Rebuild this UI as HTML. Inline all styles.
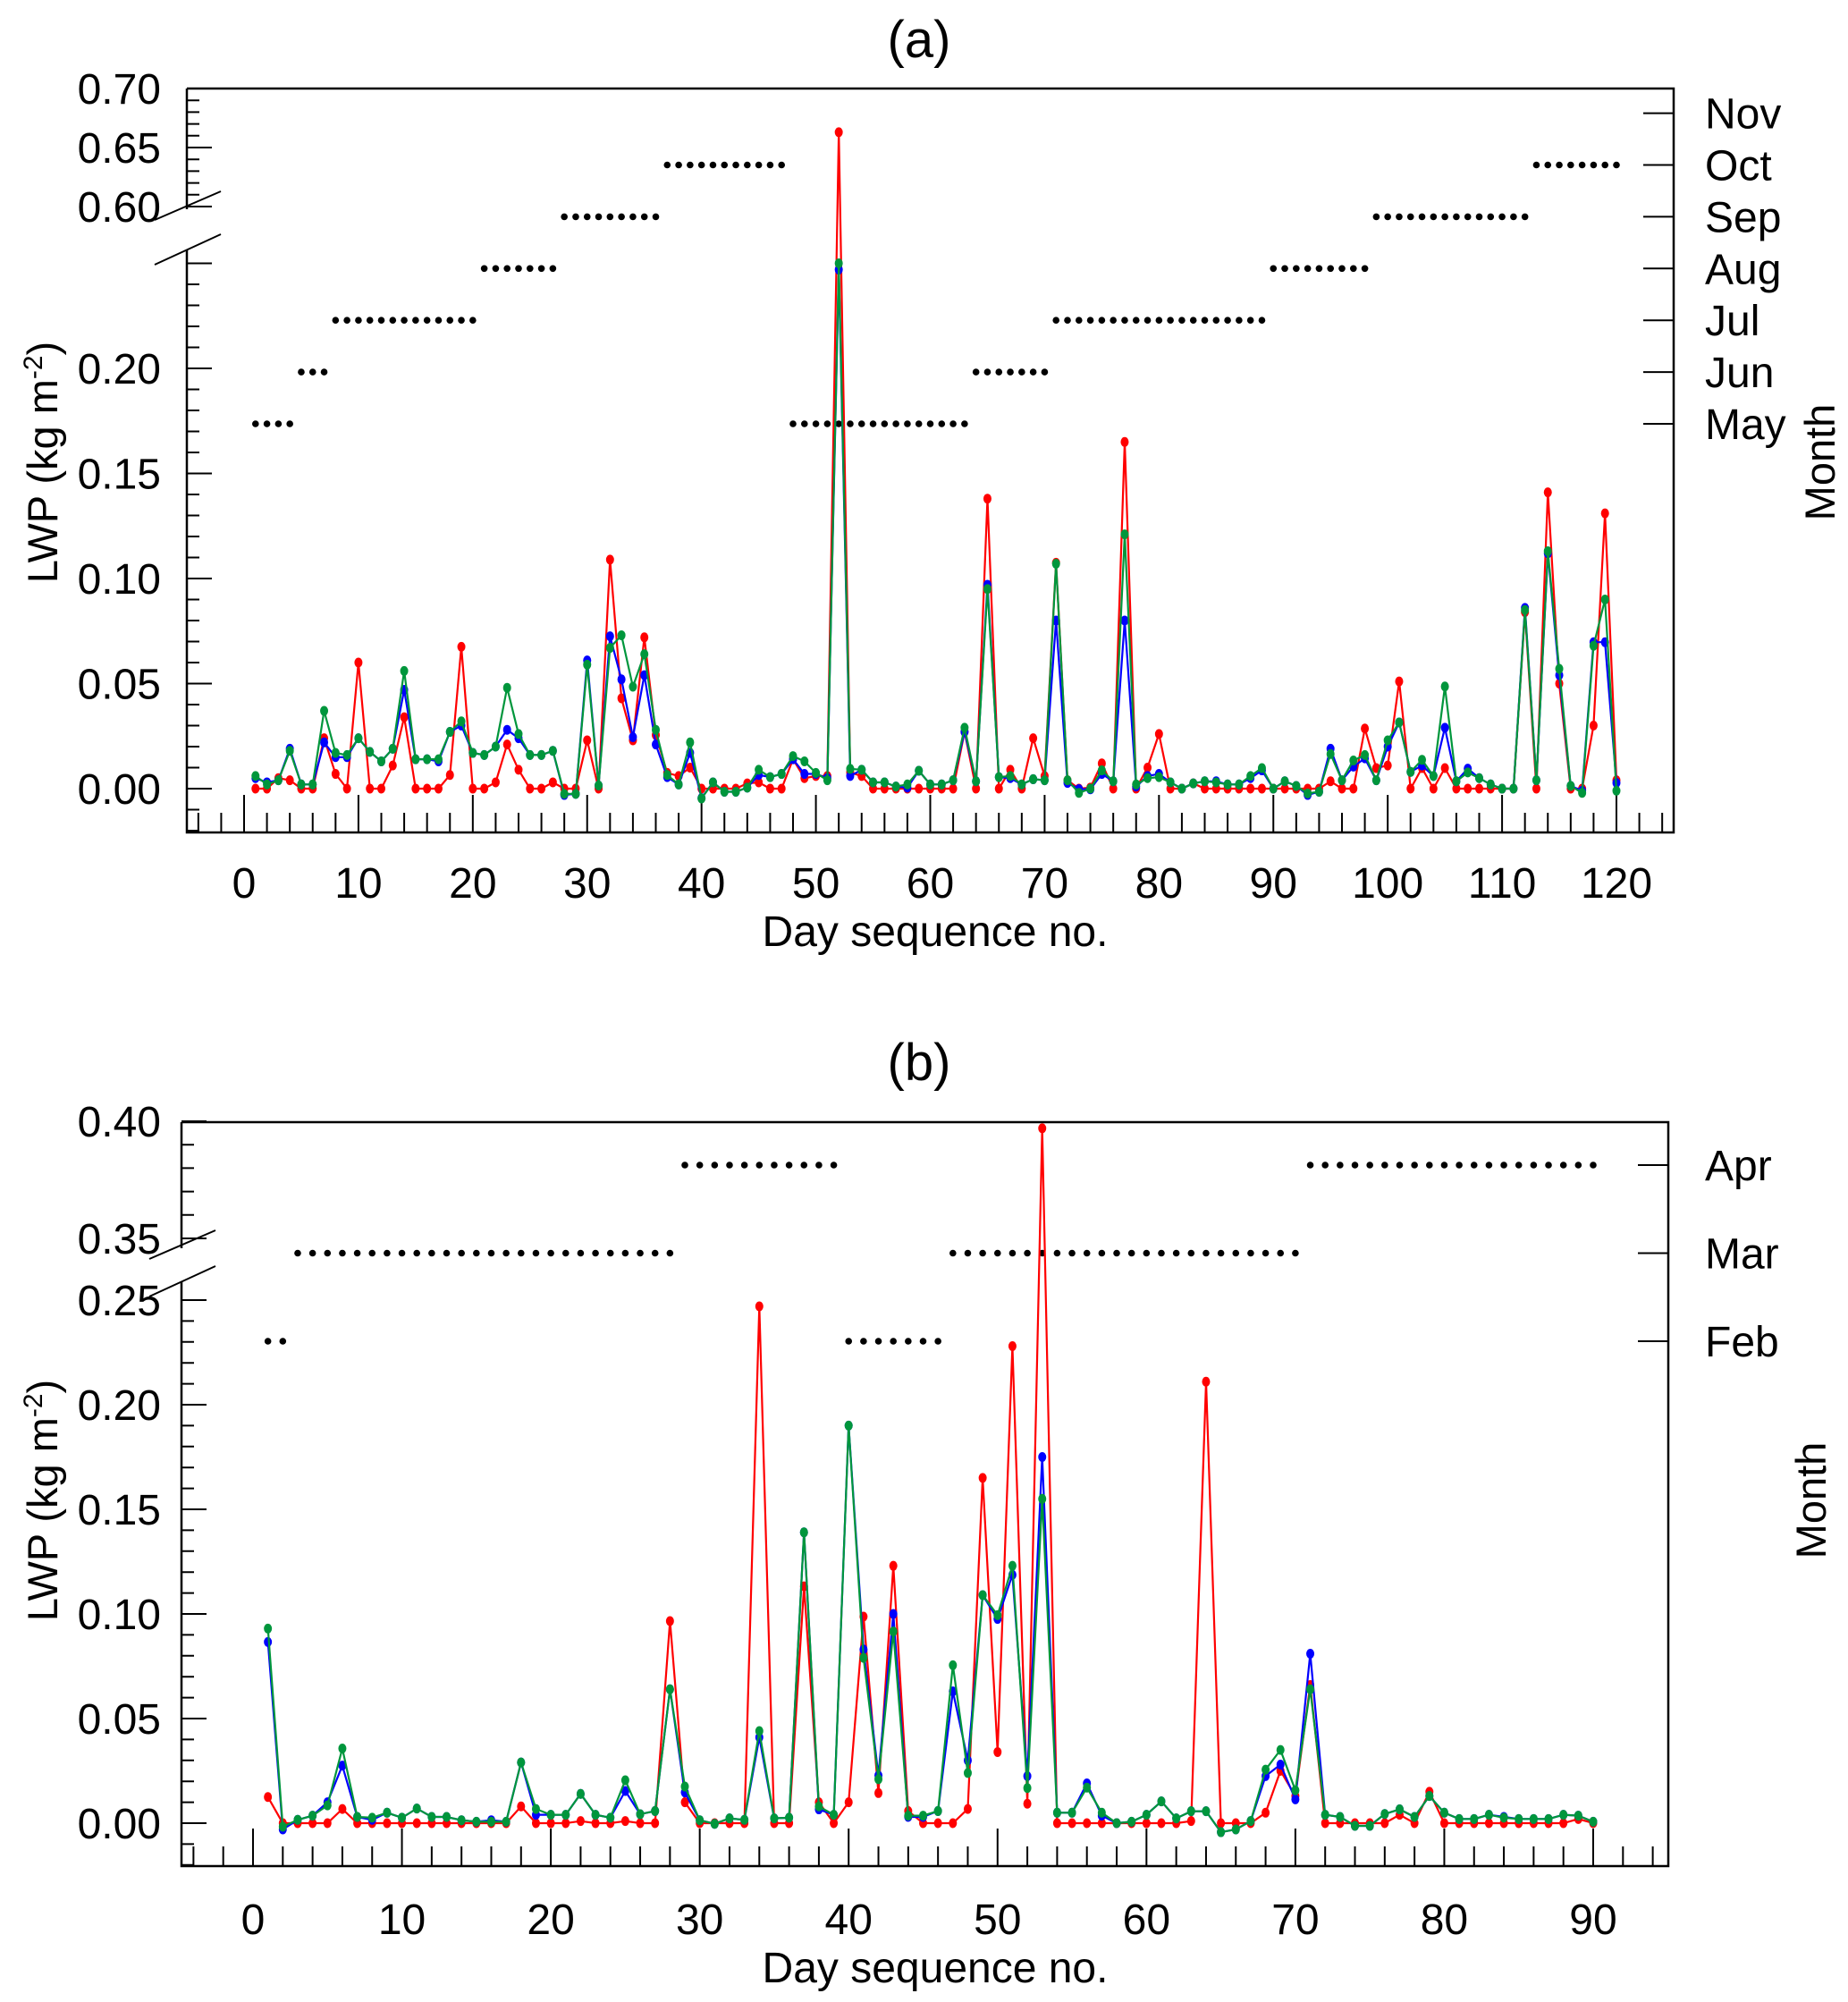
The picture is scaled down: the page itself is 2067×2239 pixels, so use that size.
<!DOCTYPE html>
<html><head><meta charset="utf-8"><style>
html,body{margin:0;padding:0;background:#fff;}
svg{display:block;}
.tk{font-family:"Liberation Sans Narrow","Liberation Sans",sans-serif;font-size:48px;fill:#000;}
.ti{font-family:"Liberation Sans Narrow","Liberation Sans",sans-serif;font-size:58px;fill:#000;}
.tt{font-family:"Liberation Sans",sans-serif;font-size:47px;fill:#000;}
</style></head><body>
<svg id="chart" width="2067" height="2239" viewBox="0 0 2067 2239" xmlns="http://www.w3.org/2000/svg">
<rect width="2067" height="2239" fill="#fff"/>
</svg>
<script>
// ---- Panel (a) data: days 1..120 ----
const redA = [0,0,.005,.004,0,0,.024,.007,0,.060, 0,0,.011,.034,0,0,0,.0065,.0675,0, 0,.003,.021,.009,0,0,.003,0,0,.023, 0,.109,.043,.023,.072,.0255,.0075,.006,.010,0, 0,0,0,.0025,.003,0,0,.014,.005,.006, .006,.663,.0077,.006,0,0,0,0,0,0, 0,0,.027,0,.138,0,.009,0,.024,.006, .1075,.004,0,.0005,.012,0,.165,0,.010,.026, 0,0,.0025,0,0,0,0,0,0,0, 0,0,0,0,.0035,0,0,.0286,.0098,.011, .051,0,.0098,0,.0098,0,0,0,0,0, 0,.084,0,.141,.050,0,0,.030,.131,.004];
const blueA = [.005,.003,.004,.019,.002,.002,.022,.015,.015,.024, .0175,.013,.019,.047,.014,.014,.013,.027,.030,.017, .016,.020,.028,.024,.016,.016,.018,-.003,-.0025,.061, .0015,.0725,.052,.0245,.054,.021,.0055,.002,.017,-.0045, .003,-.0015,-.0015,.0005,.0065,.0055,.007,.014,.007,.007, .005,.247,.006,.009,.003,.003,.001,.0005,.0085,.002, .002,.004,.027,.0035,.097,.0055,.005,.002,.0045,.004, .080,.0027,-.0002,-.0003,.007,.0035,.080,.001,.006,.007, .003,0,.0025,.0035,.0035,.002,.002,.005,.0087,0, .0035,.0013,-.003,-.0015,.019,.004,.0105,.0144,.004,.020, .0315,.008,.011,.006,.029,.0035,.0095,.005,.002,0, 0,.086,.004,.112,.054,.0013,-.001,.0697,.0697,.0027];
const greenA = [.006,.002,.004,.018,.002,.002,.037,.017,.016,.024, .0175,.013,.019,.056,.014,.014,.014,.027,.032,.017, .016,.020,.048,.026,.016,.016,.018,-.0025,-.0025,.059, .0015,.067,.073,.0485,.064,.028,.0065,.002,.022,-.0047, .003,-.0015,-.0015,.0005,.009,.0055,.007,.0155,.013,.0075, .004,.25,.0094,.009,.003,.003,.001,.002,.0085,.002, .002,.004,.029,.0035,.095,.0055,.006,.002,.0045,.004, .107,.004,-.002,0,.0087,.0035,.121,.002,.005,.0055, .003,0,.0025,.0035,.003,.002,.002,.006,.0098,0, .0035,.0013,-.0023,-.0015,.0165,.004,.0134,.016,.004,.023, .0315,.008,.0137,.006,.0486,.0035,.0077,.005,.002,0, 0,.085,.004,.113,.057,.0013,-.002,.068,.090,-.001];
const monthNamesA = ['May','Jun','Jul','Aug','Sep','Oct','Nov'];
const segStartA = [1,5,8,21,28,37,48,64,71,90,99,113];
const segEndA   = [4,7,20,27,36,47,63,70,89,98,112,120];
const segMonthA = ['May','Jun','Jul','Aug','Sep','Oct','May','Jun','Jul','Aug','Sep','Oct'];
const xTicksA = [0,10,20,30,40,50,60,70,80,90,100,110,120];
const yLowTicksA = ['0.00','0.05','0.10','0.15','0.20'];
const yHighTicksA = ['0.60','0.65','0.70'];

// ---- Panel (b) data: days 1..90 ----
const redB = [.0125,0,0,0,0,.0068,0,0,0,0, 0,0,0,0,0,0,0,.008,0,0, 0,.001,0,0,.001,0,0,.0966,.010,0, 0,0,0,.247,0,0,.1132,.010,0,.010, .0987,.0144,.123,.0058,0,0,0,.0068,.165,.034, .228,.0093,.397,0,0,0,0,0,0,0, 0,0,.001,.211,0,0,0,.005,.025,.013, .066,0,0,0,0,0,.004,0,.015,0, 0,0,0,0,0,0,0,0,.002,0];
const blueB = [.0866,-.003,.0016,.0036,.010,.0275,.003,.0016,.005,.0026, .007,.003,.003,.0014,.0007,.0014,.0007,.029,.004,.004, .004,.014,.004,.0026,.0154,.0043,.0058,.064,.0147,.0014, -.0003,.0023,.0016,.041,.0023,.0026,.139,.0066,.004,.190, .083,.0228,.100,.003,.003,.0058,.063,.030,.109,.0976, .1187,.0225,.175,.005,.005,.019,.0036,0,.0007,.004, .0104,.0023,.0057,.0057,-.0043,-.003,.001,.0225,.028,.0114, .081,.004,.003,-.0013,-.0013,.0044,.0066,.003,.013,.005, .002,.002,.004,.003,.002,.002,.002,.004,.0036,.0007];
const greenB = [.093,-.0017,.0016,.0036,.0085,.0357,.003,.0026,.005,.0026, .007,.003,.003,.0014,.0007,.0007,.0007,.029,.0068,.004, .004,.014,.004,.0026,.0205,.0043,.0058,.064,.0175,.0014, -.0003,.0023,.0016,.044,.0023,.0026,.139,.008,.004,.190, .079,.021,.0916,.0036,.0036,.0058,.0755,.024,.109,.0994, .123,.0168,.155,.005,.005,.017,.005,0,.0007,.004, .0104,.0023,.0057,.0057,-.0043,-.003,.001,.0256,.035,.0157, .064,.004,.003,-.0013,-.0013,.0044,.0066,.003,.013,.005, .002,.002,.004,.0026,.002,.002,.002,.004,.0036,.0007];
const monthNamesB = ['Feb','Mar','Apr'];
const segStartB = [1,3,29,40,47,71];
const segEndB   = [2,28,39,46,70,90];
const segMonthB = ['Feb','Mar','Apr','Feb','Mar','Apr'];
const xTicksB = [0,10,20,30,40,50,60,70,80,90];
const yLowTicksB = ['0.00','0.05','0.10','0.15','0.20','0.25'];
const yHighTicksB = ['0.35','0.40'];

const NS = 'http://www.w3.org/2000/svg';
const svg = document.getElementById('chart');
function mk(tag, attrs, parent) {
  const e = document.createElementNS(NS, tag);
  for (const k in attrs) e.setAttribute(k, attrs[k]);
  (parent || svg).appendChild(e);
  return e;
}
function txt(s, x, y, cls, anchor, parent, name) {
  const t = mk('text', {x: x, y: y, class: cls, 'text-anchor': anchor}, parent);
  t.textContent = s;
  
  
  return t;
}

function drawPanel(P) {
  const g = mk('g', {});
  
  
  const X = d => P.x0 + d * (P.x1 - P.x0) / P.xMax;
  const Y = v => v <= P.lowMax ? P.y0 - v / 0.05 * P.lowPer : P.hiRef - (v - P.hiRefV) / 0.05 * P.hiPer;
  const fr = mk('path', {d: `M${P.L},${P.T} H${P.R} V${P.B} H${P.L} V${P.gapB} M${P.L},${P.gapT} V${P.T}`, fill: 'none', stroke: '#000', 'stroke-width': 2.5}, g);
  
  
  const bk = mk('path', {d: `M${P.L-36},${P.gapB+16} L${P.L+38},${P.gapB-18} M${P.L-36},${P.gapT+12} L${P.L+38},${P.gapT-20}`, stroke: '#000', 'stroke-width': 2, fill: 'none'}, g);
  
  
  let d = '';
  for (let i = -2; i <= P.lowTickMax; i++) {
    const y = Y(i / 100);
    d += `M${P.L},${y} h${i % 5 === 0 ? 28 : 14}`;
  }
  for (let i = P.hiTickMin; i <= P.hiTickMax; i++) {
    const y = Y(i / 100);
    d += `M${P.L},${y} h${i % 5 === 0 ? 28 : 14}`;
  }
  for (let dd = -4; dd <= P.xMax + 4; dd += 2) {
    const x = X(dd);
    if (x <= P.L || x >= P.R) continue;
    d += `M${x},${P.B} v${dd % 10 === 0 && dd >= 0 && dd <= P.xMax ? -42 : -22}`;
  }
  P.months.forEach((m, i) => { d += `M${P.R},${P.mY(i)} h-34`; });
  const tk = mk('path', {d: d, stroke: '#000', 'stroke-width': 2, fill: 'none'}, g);
  
  
  P.yLow.forEach(s => txt(s, 180, Y(parseFloat(s)) + 17, 'tk', 'end', g, 'y-tick-label'));
  P.yHigh.forEach(s => txt(s, 180, Y(parseFloat(s)) + 17, 'tk', 'end', g, 'y-tick-label'));
  P.xTicks.forEach(v => txt(String(v), X(v), P.xLabY, 'tk', 'middle', g, 'x-tick-label'));
  P.months.forEach((m, i) => txt(m, 1907, P.mY(i) + 17, 'tk', 'start', g, 'month-label'));
  txt(P.title, 1028, P.titleY, 'ti', 'middle', g, 'panel-title');
  txt('Day sequence no.', 1046, P.xTitleY, 'tk', 'middle', g, 'x-axis-title');
  const yt = txt('LWP (kg m', 0, 0, 'tt', 'middle', g, 'y-axis-title');
  const sup = mk('tspan', {'font-size': 30, dy: -17}, yt); sup.textContent = '-2';
  
  
  const cl = mk('tspan', {dy: 17}, yt); cl.textContent = ')';
  
  
  yt.setAttribute('transform', `translate(64,${P.yTitleC}) rotate(-90)`);
  const mt = txt('Month', 0, 0, 'tt', 'middle', g, 'right-axis-title');
  mt.setAttribute('transform', `translate(${P.mTitleX},${P.yTitleC}) rotate(-90)`);
  for (let s = 0; s < P.segS.length; s++) {
    const mi = P.months.indexOf(P.segM[s]);
    for (let dd = P.segS[s]; dd <= P.segE[s]; dd++) {
      const c = mk('circle', {cx: X(dd), cy: P.mY(mi), r: 3.8, fill: '#000'}, g);
      
      
    }
  }
  P.series.forEach(S => {
    const pts = S.vals.map((v, i) => `${X(i + 1).toFixed(1)},${Y(v).toFixed(1)}`).join(' ');
    const pl = mk('polyline', {points: pts, fill: 'none', stroke: S.color, 'stroke-width': 2.2}, g);
    
    
    S.vals.forEach((v, i) => {
      const c = mk('ellipse', {cx: X(i + 1), cy: Y(v), rx: 4.5, ry: 5.5, fill: S.color}, g);
      
      
    });
  });
}

drawPanel({
  name: 'panel-a', title: '(a)', titleY: 64,
  L: 209, R: 1872, T: 99, B: 931, gapT: 234, gapB: 280,
  x0: 273, x1: 1808, xMax: 120,
  y0: 882, lowPer: 117.5, lowMax: 0.4, hiRef: 231, hiRefV: 0.60, hiPer: 66,
  lowTickMax: 25, hiTickMin: 60, hiTickMax: 70,
  yLow: yLowTicksA, yHigh: yHighTicksA, xTicks: xTicksA, xLabY: 1004, xTitleY: 1058,
  months: monthNamesA, mY: i => 474 - i * 57.9,
  segS: segStartA, segE: segEndA, segM: segMonthA,
  yTitleC: 517, mTitleX: 2052,
  series: [{name: 'red-series', color: '#ff0000', vals: redA}, {name: 'blue-series', color: '#0000ff', vals: blueA}, {name: 'green-series', color: '#00963c', vals: greenA}]
});
drawPanel({
  name: 'panel-b', title: '(b)', titleY: 1208,
  L: 203, R: 1866, T: 1255, B: 2087, gapT: 1396, gapB: 1434,
  x0: 283, x1: 1782, xMax: 90,
  y0: 2039, lowPer: 117, lowMax: 0.3, hiRef: 1385, hiRefV: 0.35, hiPer: 131,
  lowTickMax: 25, hiTickMin: 35, hiTickMax: 40,
  yLow: yLowTicksB, yHigh: yHighTicksB, xTicks: xTicksB, xLabY: 2163, xTitleY: 2217,
  months: monthNamesB, mY: i => 1500 - i * 98.5,
  segS: segStartB, segE: segEndB, segM: segMonthB,
  yTitleC: 1678, mTitleX: 2042,
  series: [{name: 'red-series', color: '#ff0000', vals: redB}, {name: 'blue-series', color: '#0000ff', vals: blueB}, {name: 'green-series', color: '#00963c', vals: greenB}]
});
</script>
</body></html>
